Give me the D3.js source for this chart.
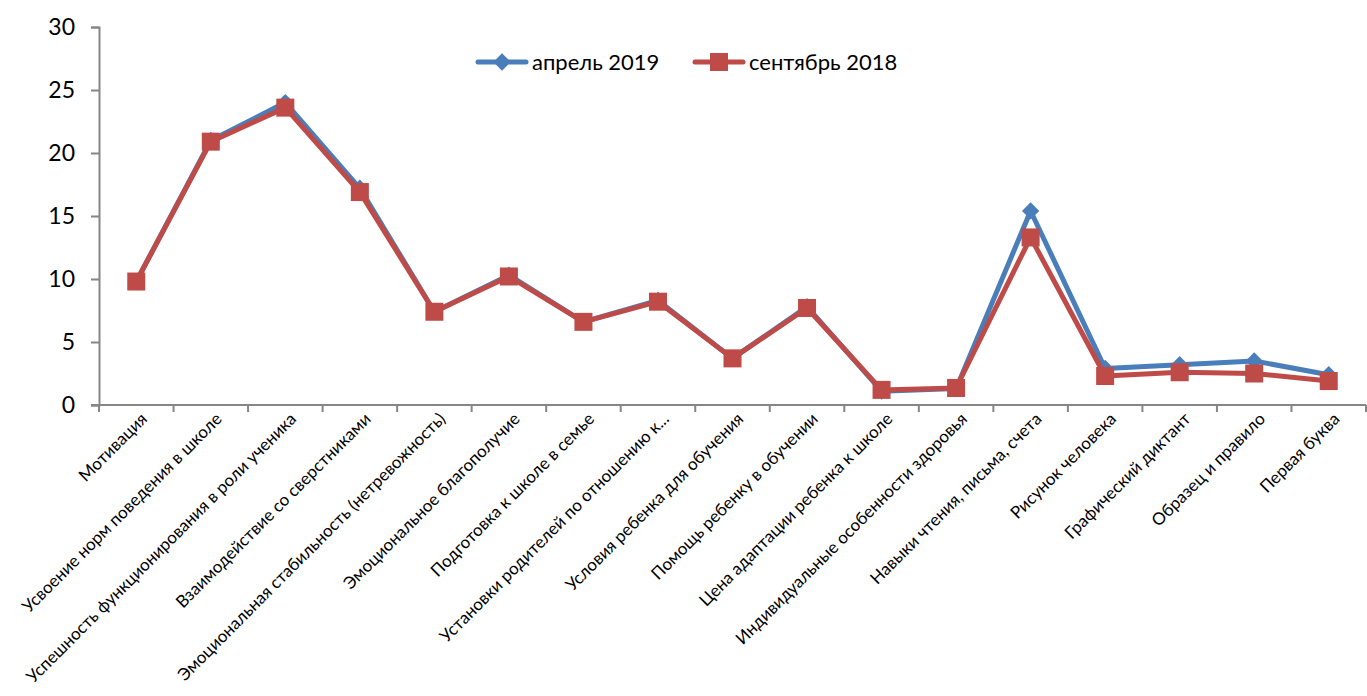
<!DOCTYPE html>
<html><head><meta charset="utf-8">
<script src="https://cdn.jsdelivr.net/npm/d3@7"></script>
<style>html,body{margin:0;padding:0;background:#fff;}svg{display:block;}</style>
</head><body>
<svg id="chart" width="1367" height="696"></svg>
<script>
const categories = [
  "Мотивация",
  "Усвоение норм поведения в школе",
  "Успешность функционирования в роли ученика",
  "Взаимодействие со сверстниками",
  "Эмоциональная стабильность (нетревожность)",
  "Эмоциональное благополучие",
  "Подготовка к школе в семье",
  "Установки родителей по отношению к...",
  "Условия ребенка для обучения",
  "Помощь ребенку в обучении",
  "Цена адаптации ребенка к школе",
  "Индивидуальные особенности здоровья",
  "Навыки чтения, письма, счета",
  "Рисунок человека",
  "Графический диктант",
  "Образец и правило",
  "Первая буква"
];
const april2019 = [9.8, 21.0, 24.0, 17.2, 7.4, 10.3, 6.6, 8.3, 3.7, 7.8, 1.1, 1.3, 15.4, 2.9, 3.2, 3.5, 2.4];
const september2018 = [9.8, 20.9, 23.6, 16.9, 7.4, 10.2, 6.6, 8.2, 3.7, 7.7, 1.2, 1.35, 13.3, 2.3, 2.6, 2.5, 1.9];
const yTicks = [0, 5, 10, 15, 20, 25, 30];
const seriesNames = ["апрель 2019", "сентябрь 2018"];

(function () {
const FONT = "Lato, 'Open Sans', sans-serif";
const svg = d3.select("#chart");
const mLeft = 99, mRight = 1366, mTop = 27, mBottom = 405;

const x = d3.scaleBand().domain(categories).range([mLeft, mRight]).padding(0);
const y = d3.scaleLinear().domain([0, 30]).range([mBottom, mTop]);

// Y axis
const yAxis = d3.axisLeft(y).tickValues(yTicks).tickSize(8).tickPadding(16);
const gy = svg.append("g").attr("transform", `translate(${mLeft},0)`).call(yAxis);
gy.select(".domain").attr("stroke", "#868686").attr("stroke-width", 2);
gy.selectAll(".tick line").attr("stroke", "#868686").attr("stroke-width", 2);
gy.selectAll(".tick text").attr("font-family", FONT).attr("font-size", 23).attr("fill", "#000");

// X axis with ticks at category boundaries
const gx = svg.append("g").attr("transform", `translate(0,${mBottom})`);
gx.append("line").attr("x1", mLeft - 8).attr("x2", mRight).attr("y1", 0).attr("y2", 0)
  .attr("stroke", "#868686").attr("stroke-width", 2);
const boundaries = categories.map(c => x(c)).concat([x(categories[categories.length-1]) + x.bandwidth()]);
gx.selectAll("line.tk").data(boundaries).enter().append("line").attr("class","tk")
  .attr("x1", d => d).attr("x2", d => d).attr("y1", 0).attr("y2", 7)
  .attr("stroke", "#868686").attr("stroke-width", 2);

gx.selectAll("text.lbl").data(categories).enter().append("text").attr("class","lbl")
  .attr("transform", d => `translate(${x(d) + x.bandwidth()/2 + 12},${15}) rotate(-45)`)
  .attr("text-anchor", "end")
  .attr("font-family", FONT).attr("font-size", 17).attr("fill", "#000")
  .text(d => d);

const cx = d => x(d) + x.bandwidth()/2;
const line = d3.line().x((d,i) => cx(categories[i])).y(d => y(d));

const blue = "#4a7ebb", red = "#be4b48";

// April 2019
svg.append("path").datum(april2019).attr("d", line).attr("fill","none")
  .attr("stroke", blue).attr("stroke-width", 5).attr("stroke-linejoin","round").attr("stroke-linecap","round");
const diamond = d3.symbol().type(d3.symbolSquare).size(150);
svg.selectAll("path.dm").data(april2019).enter().append("path").attr("class","dm")
  .attr("d", diamond())
  .attr("transform", (d,i) => `translate(${cx(categories[i])},${y(d)}) rotate(45)`)
  .attr("fill", blue);

// September 2018
svg.append("path").datum(september2018).attr("d", line).attr("fill","none")
  .attr("stroke", red).attr("stroke-width", 5).attr("stroke-linejoin","round").attr("stroke-linecap","round");
svg.selectAll("rect.sq").data(september2018).enter().append("rect").attr("class","sq")
  .attr("x", (d,i) => cx(categories[i]) - 9).attr("y", d => y(d) - 9)
  .attr("width", 18).attr("height", 18).attr("fill", red);

// Legend
const lg = svg.append("g");
const ly = 62;
lg.append("line").attr("x1", 478).attr("x2", 526).attr("y1", ly).attr("y2", ly)
  .attr("stroke", blue).attr("stroke-width", 5).attr("stroke-linecap","round");
lg.append("path").attr("d", diamond()).attr("transform", `translate(502,${ly}) rotate(45)`).attr("fill", blue);
lg.append("text").attr("x", 532).attr("y", ly + 8).attr("font-family", FONT).attr("font-size", 22)
  .attr("fill","#000").text(seriesNames[0]);
lg.append("line").attr("x1", 695).attr("x2", 743).attr("y1", ly).attr("y2", ly)
  .attr("stroke", red).attr("stroke-width", 5).attr("stroke-linecap","round");
lg.append("rect").attr("x", 710).attr("y", ly - 9).attr("width", 18).attr("height", 18).attr("fill", red);
lg.append("text").attr("x", 749).attr("y", ly + 8).attr("font-family", FONT).attr("font-size", 22)
  .attr("fill","#000").text(seriesNames[1]);
})();
</script>
</body></html>
